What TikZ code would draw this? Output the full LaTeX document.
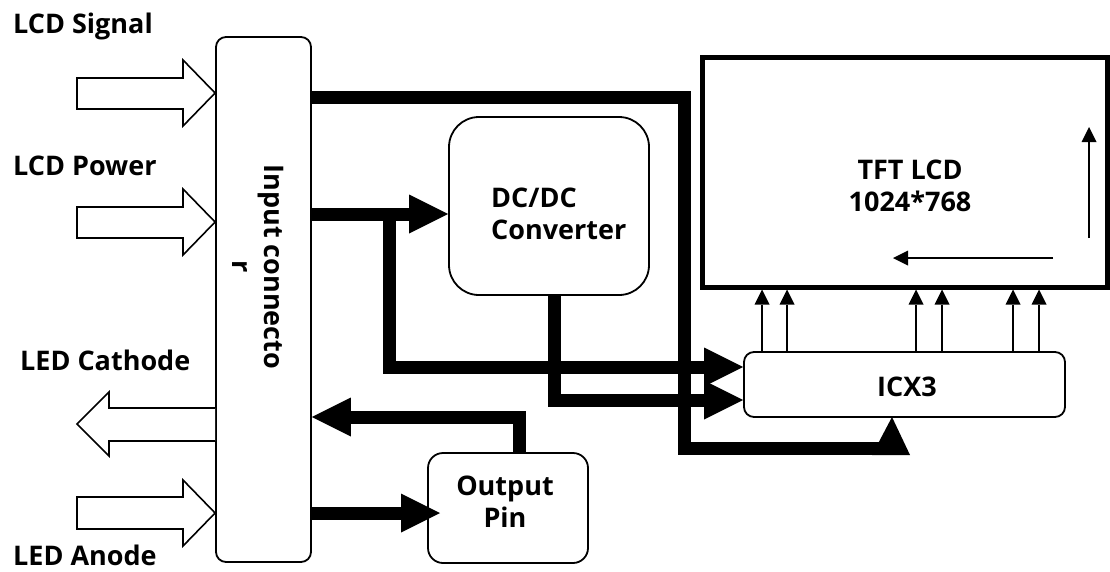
\documentclass[tikz,border=0pt]{standalone}
\usepackage{fontspec}
\setmainfont{Open Sans}
\usetikzlibrary{arrows.meta}
\begin{document}
\begin{tikzpicture}[x=1pt,y=-1pt,
  every node/.style={inner sep=0pt},
  txt/.style={font=\bfseries\fontsize{27}{32}\selectfont},
  box/.style={draw, line width=1.8pt},
  blockarrow/.style={draw, line width=1.6pt, line join=miter, fill=white},
  thick line/.style={line width=13pt, line join=miter},
  bigtip/.style={-{Triangle[length=39pt 0 0,width=39pt 0 0,line width=0pt]}},
  thin arrow/.style={line width=2pt, -{Triangle[length=15pt 0 0,width=15pt 0 0,line width=0pt]}}
]
\useasboundingbox (0,0) rectangle (1110,571);

% boxes
\node[box, rounded corners=10pt, minimum width=95pt, minimum height=525pt] (conn) at (263.5,299.5) {};
\node[box, rounded corners=30pt, minimum width=200pt, minimum height=178pt] (dcdc) at (549,206) {};
\node[box, rounded corners=15pt, minimum width=160pt, minimum height=110pt] (outpin) at (508,508) {};
\node[box, rounded corners=10pt, minimum width=321pt, minimum height=65pt] (icx) at (904.5,384.5) {};
\node[draw, line width=5pt, minimum width=405pt, minimum height=229.5pt] (tft) at (905,172.25) {};

% texts
\node[txt, rotate=-90, align=center] (conntext) at (258,267) {Input connecto\\r};
\node[txt, align=left, anchor=west] (dctext) at (491,214) {DC/DC\\Converter};
\node[txt, align=center] (optext) at (505,502) {Output\\Pin};
\node[txt] (icxtext) at (907,387) {ICX3};
\node[txt, align=center] (tfttext) at (910,186) {TFT LCD\\1024*768};

\node[txt, anchor=base west] (lsig) at (13,33) {LCD Signal};
\node[txt, anchor=base west] (lpow) at (13,175) {LCD Power};
\node[txt, anchor=base west] (lcat) at (20,370) {LED Cathode};
\node[txt, anchor=base west] (lano) at (13,565) {LED Anode};

% hollow block arrows
\draw[blockarrow] (77,78) -- (183,78) -- (183,60) -- (conn.west |- 0,93) -- (183,126) -- (183,109) -- (77,109) -- cycle;
\draw[blockarrow] (77,207) -- (183,207) -- (183,189) -- (conn.west |- 0,222) -- (183,255) -- (183,238) -- (77,238) -- cycle;
\draw[blockarrow] (conn.west |- 0,408) -- (109,408) -- (109,392) -- (77,424) -- (109,456) -- (109,441) -- (conn.west |- 0,441);
\draw[blockarrow] (77,497) -- (183,497) -- (183,480) -- (conn.west |- 0,513) -- (183,546) -- (183,529) -- (77,529) -- cycle;

% thick connectors
\coordinate (c1) at (684,97);
\coordinate (c2) at (684,448);
\coordinate (c3) at (885,448);
\draw[thick line] (conn.east |- c1) -- (c1) -- (c2) -- (c3);
\fill (872,455) -- (910,455) -- (892,417) -- cycle;

\coordinate (b1) at (389,214);
\coordinate (b2) at (389,367);
\draw[thick line, bigtip] (conn.east |- b1) -- (dcdc.west |- b1);
\draw[thick line, bigtip] (b1) -- (b2) -- (icx.west |- b2);

\coordinate (d1) at (554,400);
\draw[thick line, bigtip] (dcdc.south -| d1) -- (d1) -- (icx.west |- d1);

\coordinate (e1) at (519,417);
\draw[thick line, bigtip] (outpin.north -| e1) -- (e1) -- (conn.east |- e1);

\coordinate (f1) at (440,513);
\draw[thick line, bigtip] (conn.east |- f1) -- (f1);

% thin arrows
\foreach \x in {762,787,916,942,1013,1039}
  \draw[thin arrow] (icx.north -| \x,0) -- (tft.south -| \x,0);
\coordinate (g1) at (1089,238);
\coordinate (g2) at (1089,127);
\draw[thin arrow] (g1) -- (g2);
\coordinate (h1) at (1053,258);
\coordinate (h2) at (893,258);
\draw[thin arrow] (h1) -- (h2);
\end{tikzpicture}
\end{document}
